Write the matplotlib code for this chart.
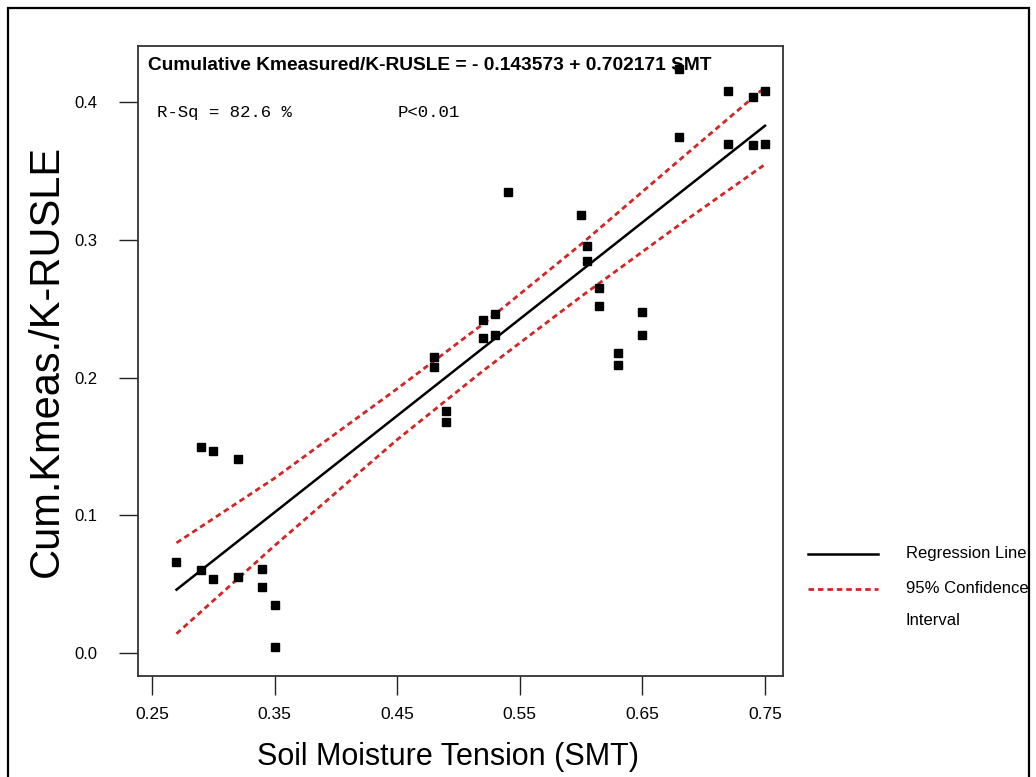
import numpy as np
import matplotlib
matplotlib.use("Agg")
import matplotlib.pyplot as plt
from matplotlib.lines import Line2D
from matplotlib.patches import Rectangle

smt = [0.27, 0.29, 0.29, 0.30, 0.30, 0.32, 0.32, 0.34, 0.34, 0.35, 0.35,
       0.48, 0.48, 0.49, 0.49, 0.52, 0.52, 0.53, 0.53, 0.54,
       0.60, 0.605, 0.605, 0.615, 0.615, 0.63, 0.63, 0.65, 0.65,
       0.68, 0.68, 0.72, 0.72, 0.74, 0.74, 0.75, 0.75]
k_ratio = [0.066, 0.150, 0.060, 0.147, 0.054, 0.141, 0.055, 0.061, 0.048, 0.035, 0.004,
           0.215, 0.208, 0.176, 0.168, 0.242, 0.229, 0.246, 0.231, 0.335,
           0.318, 0.296, 0.285, 0.265, 0.252, 0.218, 0.209, 0.248, 0.231,
           0.375, 0.424, 0.408, 0.370, 0.404, 0.369, 0.408, 0.370]

intercept = -0.143573
slope = 0.702171
r_sq = 82.6

# 95% confidence band
ci_x = [0.27, 0.35, 0.45, 0.52, 0.60, 0.68, 0.75]
ci_upper = [0.080, 0.127, 0.192, 0.239, 0.297, 0.358, 0.411]
ci_lower = [0.014, 0.078, 0.155, 0.205, 0.259, 0.311, 0.355]

xticks = [0.25, 0.35, 0.45, 0.55, 0.65, 0.75]
yticks = [0.0, 0.1, 0.2, 0.3, 0.4]

sans = ["Liberation Sans", "DejaVu Sans"]
red = "#d42424"

fig = plt.figure(figsize=(10.36, 7.77), dpi=100)
ax = fig.add_axes([0.1332, 0.13, 0.6226, 0.8108])

ax.plot(smt, k_ratio, "s", color="black", markersize=5.5, zorder=5)

line_x = np.array([min(smt), max(smt)])
ax.plot(line_x, intercept + slope * line_x, color="black", lw=1.8, zorder=3)
ax.plot(ci_x, ci_upper, color=red, lw=2, linestyle=(0, (2, 1.4)), zorder=3)
ax.plot(ci_x, ci_lower, color=red, lw=2, linestyle=(0, (2, 1.4)), zorder=3)

ax.set_xlim(0.2386, 0.7647)
ax.set_ylim(-0.0167, 0.441)
ax.set_xticks(xticks)
ax.set_xticklabels(["%.2f" % v for v in xticks], family=sans, fontsize=12.5)
ax.set_yticks(yticks)
ax.set_yticklabels(["%.1f" % v for v in yticks], family=sans, fontsize=12)
ax.tick_params(axis="y", length=14, width=1, pad=15, color="#222222")
ax.tick_params(axis="x", length=14, width=1, pad=8, color="#222222")
for s in ax.spines.values():
    s.set_linewidth(1.3)
    s.set_color("#333333")

ax.set_xlabel("Soil Moisture Tension (SMT)", family=sans, fontsize=22)
ax.xaxis.set_label_coords(0.48, -0.105)
ax.set_ylabel("Cum.Kmeas./K-RUSLE", family=sans, fontsize=30)
ax.yaxis.set_label_coords(-0.11, 0.5)

ax.text(0.015, 0.983, "Cumulative Kmeasured/K-RUSLE = - %.6f + %.6f SMT" % (-intercept, slope),
        transform=ax.transAxes, ha="left", va="top", family=sans,
        fontweight="bold", fontsize=13.8, zorder=4)
ax.text(0.029, 0.895, "R-Sq = %.1f %%" % r_sq, transform=ax.transAxes,
        ha="left", va="center", family="Liberation Mono", fontsize=12.5)
ax.text(0.402, 0.895, "P<0.01", transform=ax.transAxes,
        ha="left", va="center", family="Liberation Mono", fontsize=12.5)

# legend drawn outside the axes
fig.add_artist(Line2D([0.780, 0.8475], [0.287, 0.287], color="black", lw=1.8,
                      transform=fig.transFigure))
fig.add_artist(Line2D([0.780, 0.8475], [0.242, 0.242], color=red, lw=2,
                      linestyle=(0, (2, 1.4)), transform=fig.transFigure))
fig.text(0.8745, 0.288, "Regression Line", family=sans, fontsize=12, va="center")
fig.text(0.8745, 0.243, "95% Confidence", family=sans, fontsize=12, va="center")
fig.text(0.8745, 0.202, "Interval", family=sans, fontsize=12, va="center")

# outer frame of the picture
fig.add_artist(Rectangle((8 / 1036, -0.05), (1029 - 8) / 1036, 1.05 - 8 / 777,
                         fill=False, lw=1.6, edgecolor="black", transform=fig.transFigure))

fig.savefig("out.png", dpi=100)
